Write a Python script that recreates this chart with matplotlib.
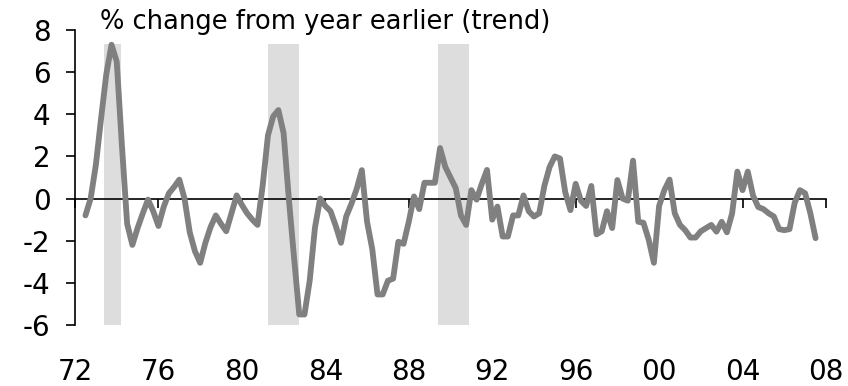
import numpy as np
import matplotlib
matplotlib.use("Agg")
import matplotlib.pyplot as plt

plt.rcParams['font.family'] = ['DejaVu Sans']
plt.rcParams['axes.unicode_minus'] = False

# quarterly series, starting mid-1972
start_year = 1972.5
values = [
    -0.8, 0.0, 1.6, 3.8, 5.9, 7.3, 6.5, 2.5, -1.2, -2.2,
    -1.4, -0.7, -0.05, -0.6, -1.3, -0.4, 0.25, 0.55, 0.9, 0.0,
    -1.6, -2.5, -3.05, -2.1, -1.35, -0.8, -1.2, -1.55, -0.7, 0.15,
    -0.3, -0.7, -1.0, -1.25, 0.65, 3.0, 3.9, 4.2, 3.1, 0.0,
    -2.8, -5.5, -5.5, -3.9, -1.4, 0.0, -0.35, -0.6, -1.3, -2.1,
    -0.85, -0.25, 0.45, 1.35, -1.1, -2.4, -4.55, -4.55, -3.9, -3.8,
    -2.05, -2.15, -1.1, 0.1, -0.5, 0.75, 0.75, 0.75, 2.4, 1.5,
    1.0, 0.5, -0.8, -1.25, 0.4, -0.05, 0.7, 1.36, -1.0, -0.38,
    -1.8, -1.8, -0.8, -0.8, 0.15, -0.6, -0.85, -0.7, 0.6, 1.5,
    2.0, 1.9, 0.3, -0.55, 0.7, -0.1, -0.35, 0.6, -1.7, -1.55,
    -0.6, -1.4, 0.88, 0.0, -0.1, 1.8, -1.1, -1.15, -1.95, -3.05,
    -0.35, 0.4, 0.9, -0.7, -1.25, -1.5, -1.85, -1.85, -1.55, -1.4,
    -1.25, -1.57, -1.1, -1.6, -0.7, 1.28, 0.4, 1.28, 0.15, -0.4,
    -0.5, -0.7, -0.85, -1.45, -1.5, -1.45, -0.2, 0.4, 0.25, -0.7,
    -1.88,
]
years = start_year + 0.25 * np.arange(len(values))

# shaded periods
rec_start = [1973.4, 1981.23, 1989.4]
rec_end = [1974.2, 1982.72, 1990.88]
rec_top = 7.35

tick_years = list(range(1972, 2009, 4))
tick_labels = ["72", "76", "80", "84", "88", "92", "96", "00", "04", "08"]

fig = plt.figure(figsize=(8.48, 3.86), dpi=100)
ax = fig.add_axes([75 / 848, 61 / 386, 751 / 848, 295 / 386])

for x0, x1 in zip(rec_start, rec_end):
    ax.fill_between([x0, x1], -6, rec_top, color="#dddddd", lw=0, zorder=1)

ax.plot(years, values, color="#808080", lw=4.2, solid_joinstyle="round",
        solid_capstyle="round", zorder=3)

ax.set_xlim(1972, 2008)
ax.set_ylim(-6, 8)
ax.set_yticks(range(-6, 9, 2))
ax.tick_params(axis='y', direction='out', length=6.5, width=1.2, pad=11,
               labelsize=20)

ax.spines['top'].set_visible(False)
ax.spines['right'].set_visible(False)
ax.spines['left'].set_linewidth(1.2)
ax.spines['bottom'].set_position(('data', 0))
ax.spines['bottom'].set_linewidth(1.2)
ax.spines['bottom'].set_zorder(2)
ax.set_xticks(tick_years)
ax.tick_params(axis='x', direction='out', length=6.5, width=1.2,
               labelbottom=False)

sec = ax.secondary_xaxis('bottom')
sec.set_xticks(tick_years)
sec.set_xticklabels(tick_labels)
sec.tick_params(length=0, pad=24, labelsize=20)
sec.spines['bottom'].set_visible(False)

fig.text(100 / 848, 1 - 22 / 386, "% change from year earlier (trend)",
         fontsize=18.5, va='center', ha='left')

fig.savefig("out.png", dpi=100)
